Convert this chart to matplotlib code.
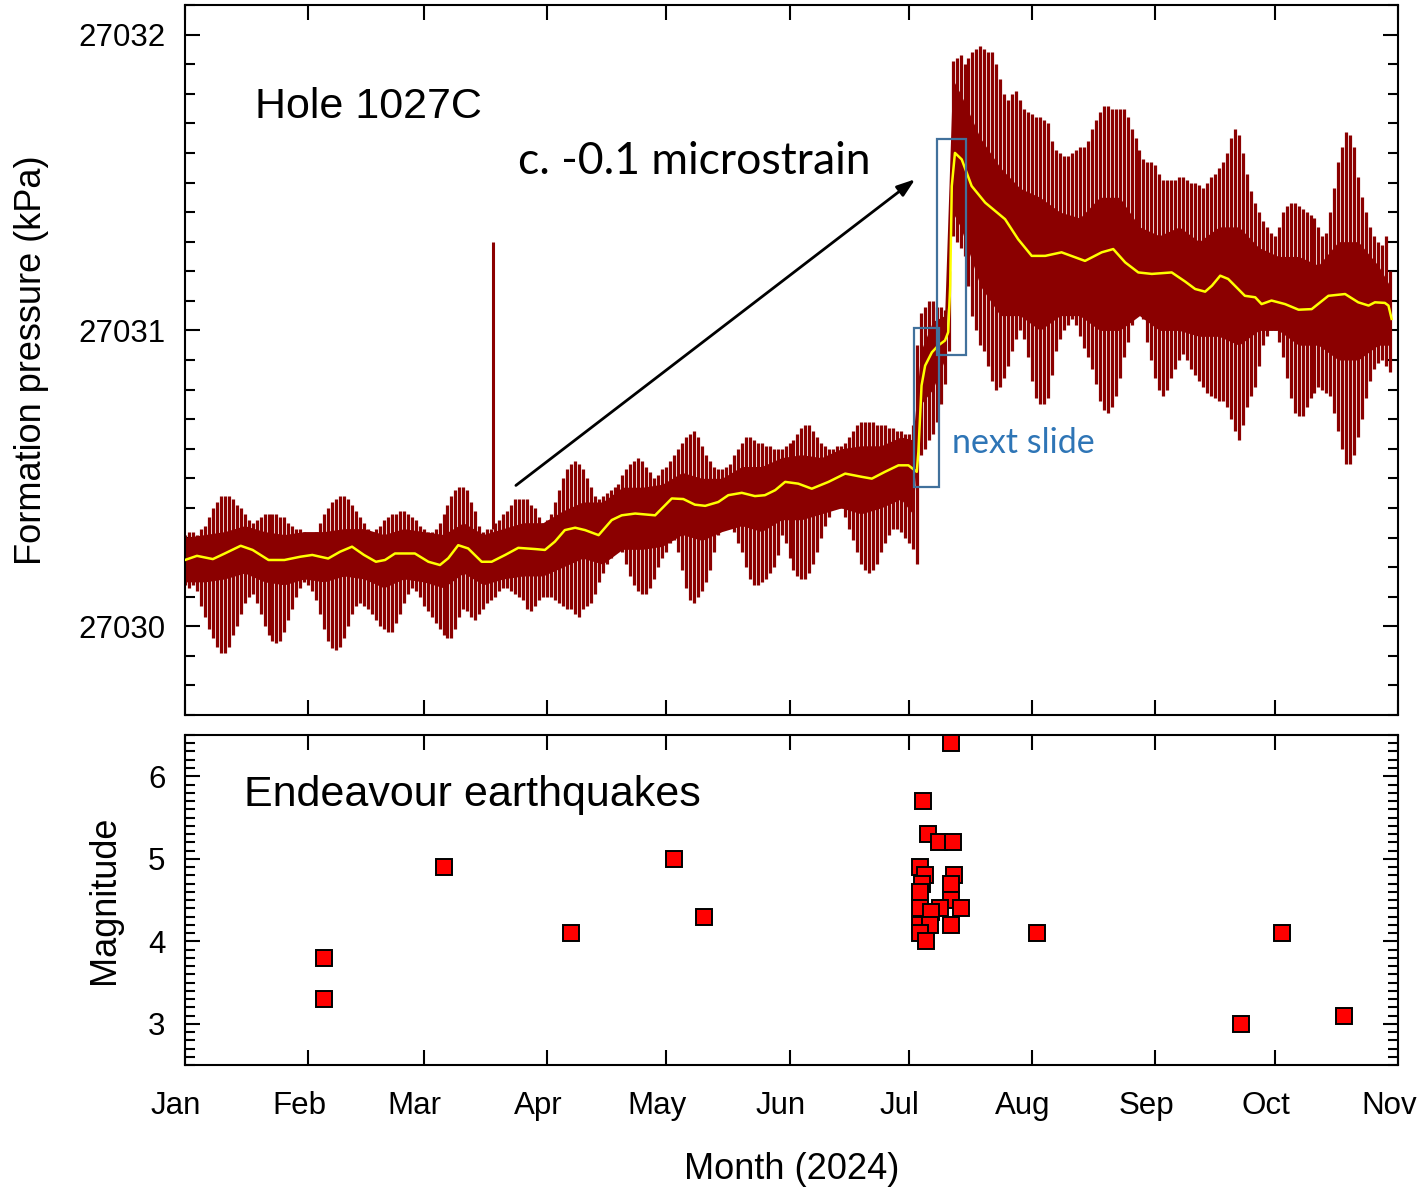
import numpy as np
import matplotlib
matplotlib.use("Agg")
import matplotlib.pyplot as plt
from matplotlib.patches import Rectangle
from matplotlib.ticker import MultipleLocator, FixedLocator
from matplotlib.transforms import ScaledTranslation

plt.rcParams['font.family'] = ['Liberation Sans', 'DejaVu Sans']

# ---- data (days since 1 Jan 2024) ----
BASE = 27030.0  # kPa, pressure offsets below are above this

month_days = [0, 31, 60, 91, 121, 152, 182, 213, 244, 274, 305]
month_labels = ['Jan', 'Feb', 'Mar', 'Apr', 'May', 'Jun', 'Jul', 'Aug', 'Sep', 'Oct', 'Nov']

# daily tidal envelope (high / low of each day's oscillation), kPa above BASE
tide_high = [
    .31, .32, .32, .31, .33, .34, .37, .40, .42, .44,
    .44, .44, .43, .41, .40, .38, .36, .35, .36, .37,
    .38, .38, .38, .38, .37, .37, .35, .34, .33, .33,
    .32, .31, .31, .32, .35, .38, .40, .42, .43, .44,
    .44, .43, .41, .39, .37, .35, .33, .32, .33, .34,
    .36, .37, .38, .38, .39, .39, .38, .37, .36, .34,
    .33, .32, .32, .33, .35, .38, .41, .44, .46, .47,
    .47, .46, .42, .39, .34, .32, .33, .33, .35, .36,
    .38, .39, .41, .43, .43, .43, .43, .41, .40, .37,
    .35, .36, .38, .42, .46, .50, .53, .55, .56, .55,
    .53, .50, .47, .44, .43, .44, .45, .46, .47, .48,
    .51, .53, .55, .56, .57, .56, .54, .52, .50, .51,
    .53, .54, .56, .58, .60, .62, .64, .65, .66, .64,
    .61, .58, .56, .54, .53, .53, .54, .55, .58, .60,
    .62, .64, .64, .63, .62, .62, .61, .61, .60, .60,
    .60, .61, .62, .63, .65, .67, .68, .68, .66, .64,
    .62, .61, .60, .60, .61, .61, .62, .64, .66, .68,
    .69, .69, .69, .69, .68, .68, .68, .67, .67, .66,
    .66, .65, .65, .68, .95, 1.06, 1.08, 1.10, 1.10, 1.08,
    1.08, 1.07, 1.20, 1.91, 1.92, 1.93, 1.90, 1.92, 1.94, 1.95,
    1.96, 1.95, 1.94, 1.94, 1.90, 1.85, 1.80, 1.78, 1.80, 1.81,
    1.78, 1.75, 1.74, 1.73, 1.72, 1.72, 1.71, 1.70, 1.64, 1.61,
    1.60, 1.59, 1.59, 1.60, 1.61, 1.62, 1.62, 1.64, 1.68, 1.71,
    1.74, 1.76, 1.76, 1.75, 1.75, 1.75, 1.75, 1.72, 1.68, 1.65,
    1.61, 1.58, 1.57, 1.57, 1.56, 1.53, 1.51, 1.51, 1.51, 1.51,
    1.52, 1.52, 1.51, 1.50, 1.50, 1.49, 1.48, 1.50, 1.52, 1.53,
    1.55, 1.57, 1.60, 1.65, 1.68, 1.66, 1.60, 1.53, 1.47, 1.43,
    1.40, 1.37, 1.35, 1.33, 1.32, 1.35, 1.40, 1.42, 1.43, 1.43,
    1.42, 1.41, 1.40, 1.39, 1.38, 1.35, 1.32, 1.33, 1.40, 1.48,
    1.57, 1.62, 1.67, 1.66, 1.62, 1.52, 1.45, 1.40, 1.35, 1.32,
    1.30, 1.29, 1.32, 1.20,
]
tide_low = [
    .14, .13, .14, .12, .07, .03, -.01, -.04, -.07, -.09,
    -.09, -.07, -.03, .00, .04, .08, .10, .11, .08, .04,
    .00, -.03, -.05, -.055, -.05, -.02, .02, .06, .10, .13,
    .15, .14, .12, .09, .04, -.01, -.05, -.075, -.08, -.07,
    -.04, .00, .04, .07, .08, .07, .06, .04, .02, .00,
    -.01, -.02, -.02, .01, .04, .08, .11, .13, .12, .10,
    .07, .05, .03, .01, -.01, -.03, -.04, -.04, -.01, .03,
    .06, .05, .03, .02, .04, .06, .08, .09, .10, .12,
    .13, .13, .12, .11, .10, .09, .06, .05, .07, .09,
    .10, .10, .10, .09, .08, .07, .06, .06, .04, .03,
    .06, .07, .08, .11, .15, .18, .21, .23, .25, .26,
    .25, .21, .17, .14, .12, .11, .11, .13, .16, .20,
    .23, .25, .28, .29, .25, .19, .13, .09, .08, .10,
    .12, .15, .19, .25, .31, .34, .35, .35, .32, .28,
    .25, .20, .16, .14, .14, .15, .16, .18, .20, .24,
    .31, .28, .23, .19, .17, .16, .16, .18, .21, .25,
    .30, .34, .37, .40, .41, .40, .37, .33, .29, .25,
    .21, .19, .18, .19, .21, .25, .28, .31, .33, .33,
    .32, .30, .28, .26, .21, .58, .60, .63, .65, .69,
    .75, .82, .93, 1.32, 1.30, 1.28, 1.25, 1.15, 1.05, 1.00,
    .95, .93, .88, .83, .80, .81, .84, .88, .93, .97,
    1.00, .97, .91, .83, .77, .75, .75, .77, .85, .93,
    .97, 1.00, 1.02, 1.04, 1.02, .98, .94, .91, .87, .82,
    .76, .73, .72, .74, .78, .84, .91, .96, 1.02, 1.06,
    1.10, 1.04, .96, .90, .84, .80, .78, .80, .84, .87,
    .90, .92, .90, .87, .85, .83, .81, .79, .78, .77,
    .76, .76, .74, .70, .66, .63, .68, .74, .78, .81,
    .88, .95, .98, 1.00, 1.00, .96, .91, .84, .77, .72,
    .71, .71, .74, .77, .79, .81, .80, .79, .78, .72,
    .66, .60, .55, .55, .58, .64, .70, .77, .83, .87,
    .89, .90, .88, .86,
]

# solid inner band of the trace
core_days = [0, 5, 10, 15, 20, 25, 30, 35, 40, 45, 50, 55, 60, 65, 70, 75, 80, 85, 90,
             95, 100, 105, 110, 115, 120, 125, 130, 135, 140, 145, 150, 155, 160, 165,
             170, 175, 180, 183, 185, 188, 191, 193, 195, 200, 205, 210, 215, 220, 225,
             230, 235, 240, 245, 250, 255, 260, 265, 270, 275, 280, 285, 290, 295, 300, 303]
core_hi = [.30, .31, .32, .34, .32, .31, .32, .32, .33, .33, .31, .33, .32, .31, .35, .31,
           .33, .35, .35, .39, .42, .42, .47, .47, .48, .52, .50, .50, .54, .54, .57, .58,
           .57, .60, .61, .61, .64, .63, .93, 1.03, 1.05, 1.85, 1.80, 1.65, 1.55, 1.48,
           1.45, 1.40, 1.38, 1.45, 1.45, 1.35, 1.32, 1.35, 1.30, 1.35, 1.35, 1.28, 1.25,
           1.25, 1.22, 1.30, 1.30, 1.22, 1.15]
core_lo = [.15, .15, .16, .18, .15, .14, .16, .15, .17, .16, .13, .16, .15, .13, .18, .14,
           .16, .17, .17, .20, .23, .21, .26, .26, .27, .31, .29, .32, .34, .32, .36, .36,
           .38, .40, .38, .40, .43, .38, .75, .80, .90, 1.40, 1.35, 1.15, 1.05, 1.05,
           1.00, 1.05, 1.05, 1.00, 1.00, 1.05, 1.00, 1.00, .98, .98, .95, 1.00, 1.00,
           .95, .95, .90, .90, .95, .95]

# smoothed pressure (yellow)
mean_days = [0, 3, 7, 10, 14, 17, 21, 25, 29, 32, 36, 39, 42, 45, 48, 50.3, 52.8, 57.8,
             61.2, 64.1, 66.2, 68.7, 71.2, 74.6, 77.1, 80.5, 83.8, 88, 90.5, 93, 95.5,
             98.1, 100.6, 104, 107.3, 109.8, 113.2, 118.2, 122.4, 125.3, 128.2, 130.8,
             134.1, 136.6, 140, 143.3, 145.8, 148.4, 150.9, 154.2, 157.6, 161.8, 166,
             170.2, 172.7, 176, 179.4, 181.9, 184, 184.4, 185.2, 186.1, 187.8, 189.4,
             191.1, 191.9, 192.4, 192.8, 193.6, 195.3, 197.8, 201.2, 206.2, 209.5,
             212.9, 216.3, 220.4, 226.3, 230.5, 233.4, 236.4, 239.7, 243.1, 248.1,
             251.5, 254, 256.5, 258.2, 260.3, 262.3, 266.5, 269.1, 270.7, 273.2, 276.6,
             280, 283.3, 287.5, 291.7, 295, 297.6, 299.2, 301.7, 302.6, 303.4]
mean_vals = [.224, .238, .227, .246, .272, .258, .224, .224, .235, .241, .229, .252, .269,
             .241, .218, .224, .246, .246, .218, .207, .230, .274, .263, .218, .218, .241,
             .265, .261, .258, .286, .325, .333, .325, .308, .359, .375, .381, .375, .432,
             .430, .411, .407, .420, .443, .451, .440, .443, .460, .488, .482, .465, .488,
             .516, .505, .499, .522, .544, .544, .522, .589, .814, .881, .926, .949, .966,
             .994, 1.151, 1.488, 1.600, 1.578, 1.488, 1.432, 1.376, 1.308, 1.252, 1.252,
             1.264, 1.235, 1.264, 1.275, 1.230, 1.196, 1.191, 1.196, 1.165, 1.140, 1.131,
             1.151, 1.185, 1.174, 1.117, 1.112, 1.089, 1.101, 1.089, 1.070, 1.072, 1.117,
             1.123, 1.095, 1.084, 1.095, 1.093, 1.084, 1.039]

spike_day = 77.4
spike_range = (0.33, 1.30)

# earthquakes
quake_day = [35, 35, 65, 97, 123, 130.5,
             192.6, 185.6, 186.7, 189.7, 193.0, 184.8, 186.1, 193.4, 185.4, 192.6,
             184.8, 192.6, 195.1, 189.8, 184.8, 187.7, 184.8, 187.3, 192.6, 184.8, 186.3,
             214.2, 265.5, 275.8, 291.4]
quake_mag = [3.8, 3.3, 4.9, 4.1, 5.0, 4.3,
             6.4, 5.7, 5.3, 5.2, 5.2, 4.9, 4.8, 4.8, 4.7, 4.7,
             4.6, 4.5, 4.4, 4.4, 4.4, 4.35, 4.2, 4.2, 4.2, 4.1, 4.0,
             4.1, 3.0, 4.1, 3.1]

DARK = '#8b0000'
BOX = '#41719c'

days = np.arange(len(tide_high))
hi = BASE + np.array(tide_high)
lo = BASE + np.array(tide_low)

fig = plt.figure(figsize=(14.25, 11.92), dpi=100)
W, H = 1425.0, 1192.0
ax1 = fig.add_axes([185 / W, 1 - 715 / H, 1213 / W, 710 / H])
ax2 = fig.add_axes([185 / W, 1 - 1065 / H, 1213 / W, 330 / H])

# ---- pressure panel ----
ax1.vlines(days, lo, hi, color=DARK, lw=2.3, zorder=2)
ax1.fill_between(core_days, BASE + np.array(core_lo), BASE + np.array(core_hi),
                 color=DARK, lw=0, zorder=2)
ax1.vlines(spike_day, BASE + spike_range[0], BASE + spike_range[1], color=DARK, lw=2.2, zorder=2)
ax1.plot(mean_days, BASE + np.array(mean_vals), color='#ffff00', lw=1.8, zorder=3)

ax1.set_xlim(0, 305)
ax1.set_ylim(27029.7, 27032.1)
ax1.yaxis.set_major_locator(FixedLocator([27030, 27031, 27032]))
ax1.yaxis.set_minor_locator(MultipleLocator(0.1))
ax1.set_yticklabels(['27030', '27031', '27032'])
ax1.xaxis.set_major_locator(FixedLocator(month_days))
ax1.tick_params(axis='x', labelbottom=False)
ax1.set_ylabel('Formation pressure (kPa)', fontsize=26)
ax1.yaxis.set_label_coords(-0.112, 0.5)

ax1.text(0.0577, 0.856, 'Hole 1027C', transform=ax1.transAxes, fontsize=31,
         ha='left', va='center')
ax1.text(0.2745, 0.779, 'c. -0.1 microstrain', transform=ax1.transAxes, fontsize=32,
         family=['Lato', 'DejaVu Sans'], ha='left', va='center')
ax1.text(0.632, 0.383, 'next slide', transform=ax1.transAxes, fontsize=24.5,
         family=['Lato', 'DejaVu Sans'], color='#2e75b6', ha='left', va='center')

ax1.annotate('', xy=(183.6, BASE + 1.511), xytext=(83.2, BASE + 0.476),
             arrowprops=dict(arrowstyle='-|>,head_length=1.1,head_width=0.38',
                             color='black', lw=2.0, shrinkA=0, shrinkB=0), zorder=5)
ax1.add_patch(Rectangle((183.4, BASE + 0.471), 6.2, 0.536, fill=False,
                        ec=BOX, lw=1.6, zorder=5))
ax1.add_patch(Rectangle((189.2, BASE + 0.917), 7.3, 0.731, fill=False,
                        ec=BOX, lw=1.6, zorder=5))

# ---- earthquake panel ----
ax2.plot(quake_day, quake_mag, 's', ms=11, mfc='#ff0000', mec='black', mew=1.4,
         ls='none', zorder=3)
ax2.set_xlim(0, 305)
ax2.set_ylim(2.5, 6.5)
ax2.yaxis.set_major_locator(MultipleLocator(1))
ax2.yaxis.set_minor_locator(MultipleLocator(0.1))
ax2.xaxis.set_major_locator(FixedLocator(month_days))
ax2.set_xticklabels(month_labels)
ax2.set_ylabel('Magnitude', fontsize=26)
ax2.yaxis.set_label_coords(-0.052, 0.5)
ax2.set_xlabel('Month (2024)', fontsize=26)
ax2.xaxis.set_label_coords(0.5, -0.265)
ax2.text(0.0486, 0.818, 'Endeavour earthquakes', transform=ax2.transAxes, fontsize=31,
         ha='left', va='center')

for ax in (ax1, ax2):
    for s in ax.spines.values():
        s.set_linewidth(1.5)
    ax.tick_params(which='both', direction='in', top=True, right=True, width=1.5,
                   labelsize=22.5, pad=14)
    ax.tick_params(which='major', length=11)
    ax.tick_params(which='minor', length=7.5)
ax2.tick_params(axis='x', pad=19)

shift = ScaledTranslation(-6.5 / 72, 0, fig.dpi_scale_trans)
for lab in ax2.get_xticklabels():
    lab.set_transform(lab.get_transform() + shift)

fig.savefig('out.png', dpi=100)
